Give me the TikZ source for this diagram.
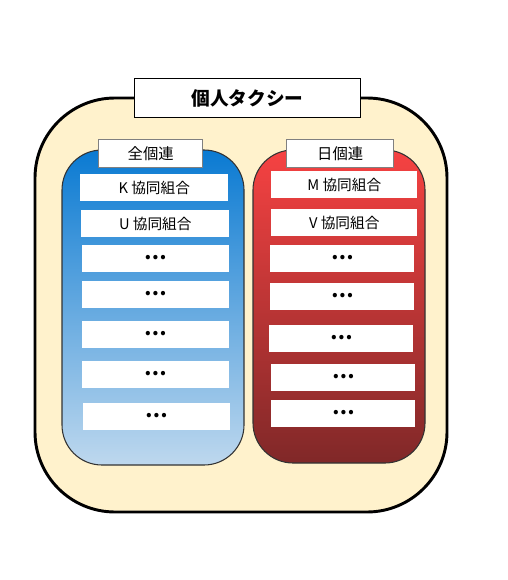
\documentclass[tikz,border=0pt]{standalone}
\usepackage{fontspec}
\setmainfont{Noto Sans CJK JP}
\newfontfamily\jpbold{Noto Sans CJK JP Black}
\definecolor{beige}{RGB}{255,242,204}
\definecolor{bluetop}{RGB}{10,122,210}
\definecolor{bluebot}{RGB}{190,216,238}
\definecolor{redtop}{RGB}{246,66,66}
\definecolor{redbot}{RGB}{128,40,40}
\begin{document}
\begin{tikzpicture}[x=0.75pt,y=-0.75pt,
  titlebox/.style={draw=black,fill=white,line width=0.8pt,font=\fontsize{14}{16}\selectfont\bfseries},
  labelbox/.style={draw=gray,fill=white,line width=1.1pt,font=\fontsize{11.5}{13}\selectfont},
  itembox/.style={fill=white,font=\fontsize{11}{13}\selectfont},
  dotsbox/.style={fill=white,font=\fontsize{15}{15}\selectfont\jpbold}]
\useasboundingbox (0,0) rectangle (507,580);
% outer
\draw[line width=2.2pt,fill=beige,rounded corners=60] (35,98) rectangle (447,512);
\node[titlebox,minimum width=226*0.75pt,minimum height=39*0.75pt,anchor=north west,inner sep=0pt] (title) at (134,78) {個人タクシー};
% blue container
\draw[line width=0.8pt,draw=black!80,top color=bluetop,bottom color=bluebot,rounded corners=30] (62,150) rectangle (244,465);
\node[labelbox,minimum width=104*0.75pt,minimum height=28*0.75pt,anchor=north west,inner sep=0pt] (zen) at (98,139) {全個連};
% red container
\draw[line width=0.8pt,draw=black!80,top color=redtop,bottom color=redbot,rounded corners=30] (253,150) rectangle (425,463);
\node[labelbox,minimum width=107*0.75pt,minimum height=28*0.75pt,anchor=north west,inner sep=0pt] (nichi) at (286,139) {日個連};
% blue items
\node[itembox,minimum width=148*0.75pt,minimum height=27*0.75pt,anchor=north west,inner sep=0pt] (k) at (80,174) {K 協同組合};
\node[itembox,minimum width=148*0.75pt,minimum height=27*0.75pt,anchor=north west,inner sep=0pt] (u) at (81,210) {U 協同組合};
\node[dotsbox,minimum width=147*0.75pt,minimum height=27*0.75pt,anchor=north west,inner sep=0pt] (b1) at (82,245) {\raisebox{2pt}{…}};
\node[dotsbox,minimum width=147*0.75pt,minimum height=27*0.75pt,anchor=north west,inner sep=0pt] (b2) at (82,281) {\raisebox{2pt}{…}};
\node[dotsbox,minimum width=147*0.75pt,minimum height=27*0.75pt,anchor=north west,inner sep=0pt] (b3) at (82,321) {\raisebox{2pt}{…}};
\node[dotsbox,minimum width=147*0.75pt,minimum height=27*0.75pt,anchor=north west,inner sep=0pt] (b4) at (82,361) {\raisebox{2pt}{…}};
\node[dotsbox,minimum width=147*0.75pt,minimum height=27*0.75pt,anchor=north west,inner sep=0pt] (b5) at (83,403) {\raisebox{2pt}{…}};
% red items
\node[itembox,minimum width=146*0.75pt,minimum height=27*0.75pt,anchor=north west,inner sep=0pt] (m) at (271,171) {M 協同組合};
\node[itembox,minimum width=146*0.75pt,minimum height=27*0.75pt,anchor=north west,inner sep=0pt] (v) at (271,209) {V 協同組合};
\node[dotsbox,minimum width=144*0.75pt,minimum height=27*0.75pt,anchor=north west,inner sep=0pt] (r1) at (270,245) {\raisebox{2pt}{…}};
\node[dotsbox,minimum width=144*0.75pt,minimum height=27*0.75pt,anchor=north west,inner sep=0pt] (r2) at (270,283) {\raisebox{2pt}{…}};
\node[dotsbox,minimum width=144*0.75pt,minimum height=27*0.75pt,anchor=north west,inner sep=0pt] (r3) at (269,325) {\raisebox{2pt}{…}};
\node[dotsbox,minimum width=144*0.75pt,minimum height=27*0.75pt,anchor=north west,inner sep=0pt] (r4) at (271,364) {\raisebox{2pt}{…}};
\node[dotsbox,minimum width=144*0.75pt,minimum height=27*0.75pt,anchor=north west,inner sep=0pt] (r5) at (271,400) {\raisebox{2pt}{…}};
\end{tikzpicture}
\end{document}
